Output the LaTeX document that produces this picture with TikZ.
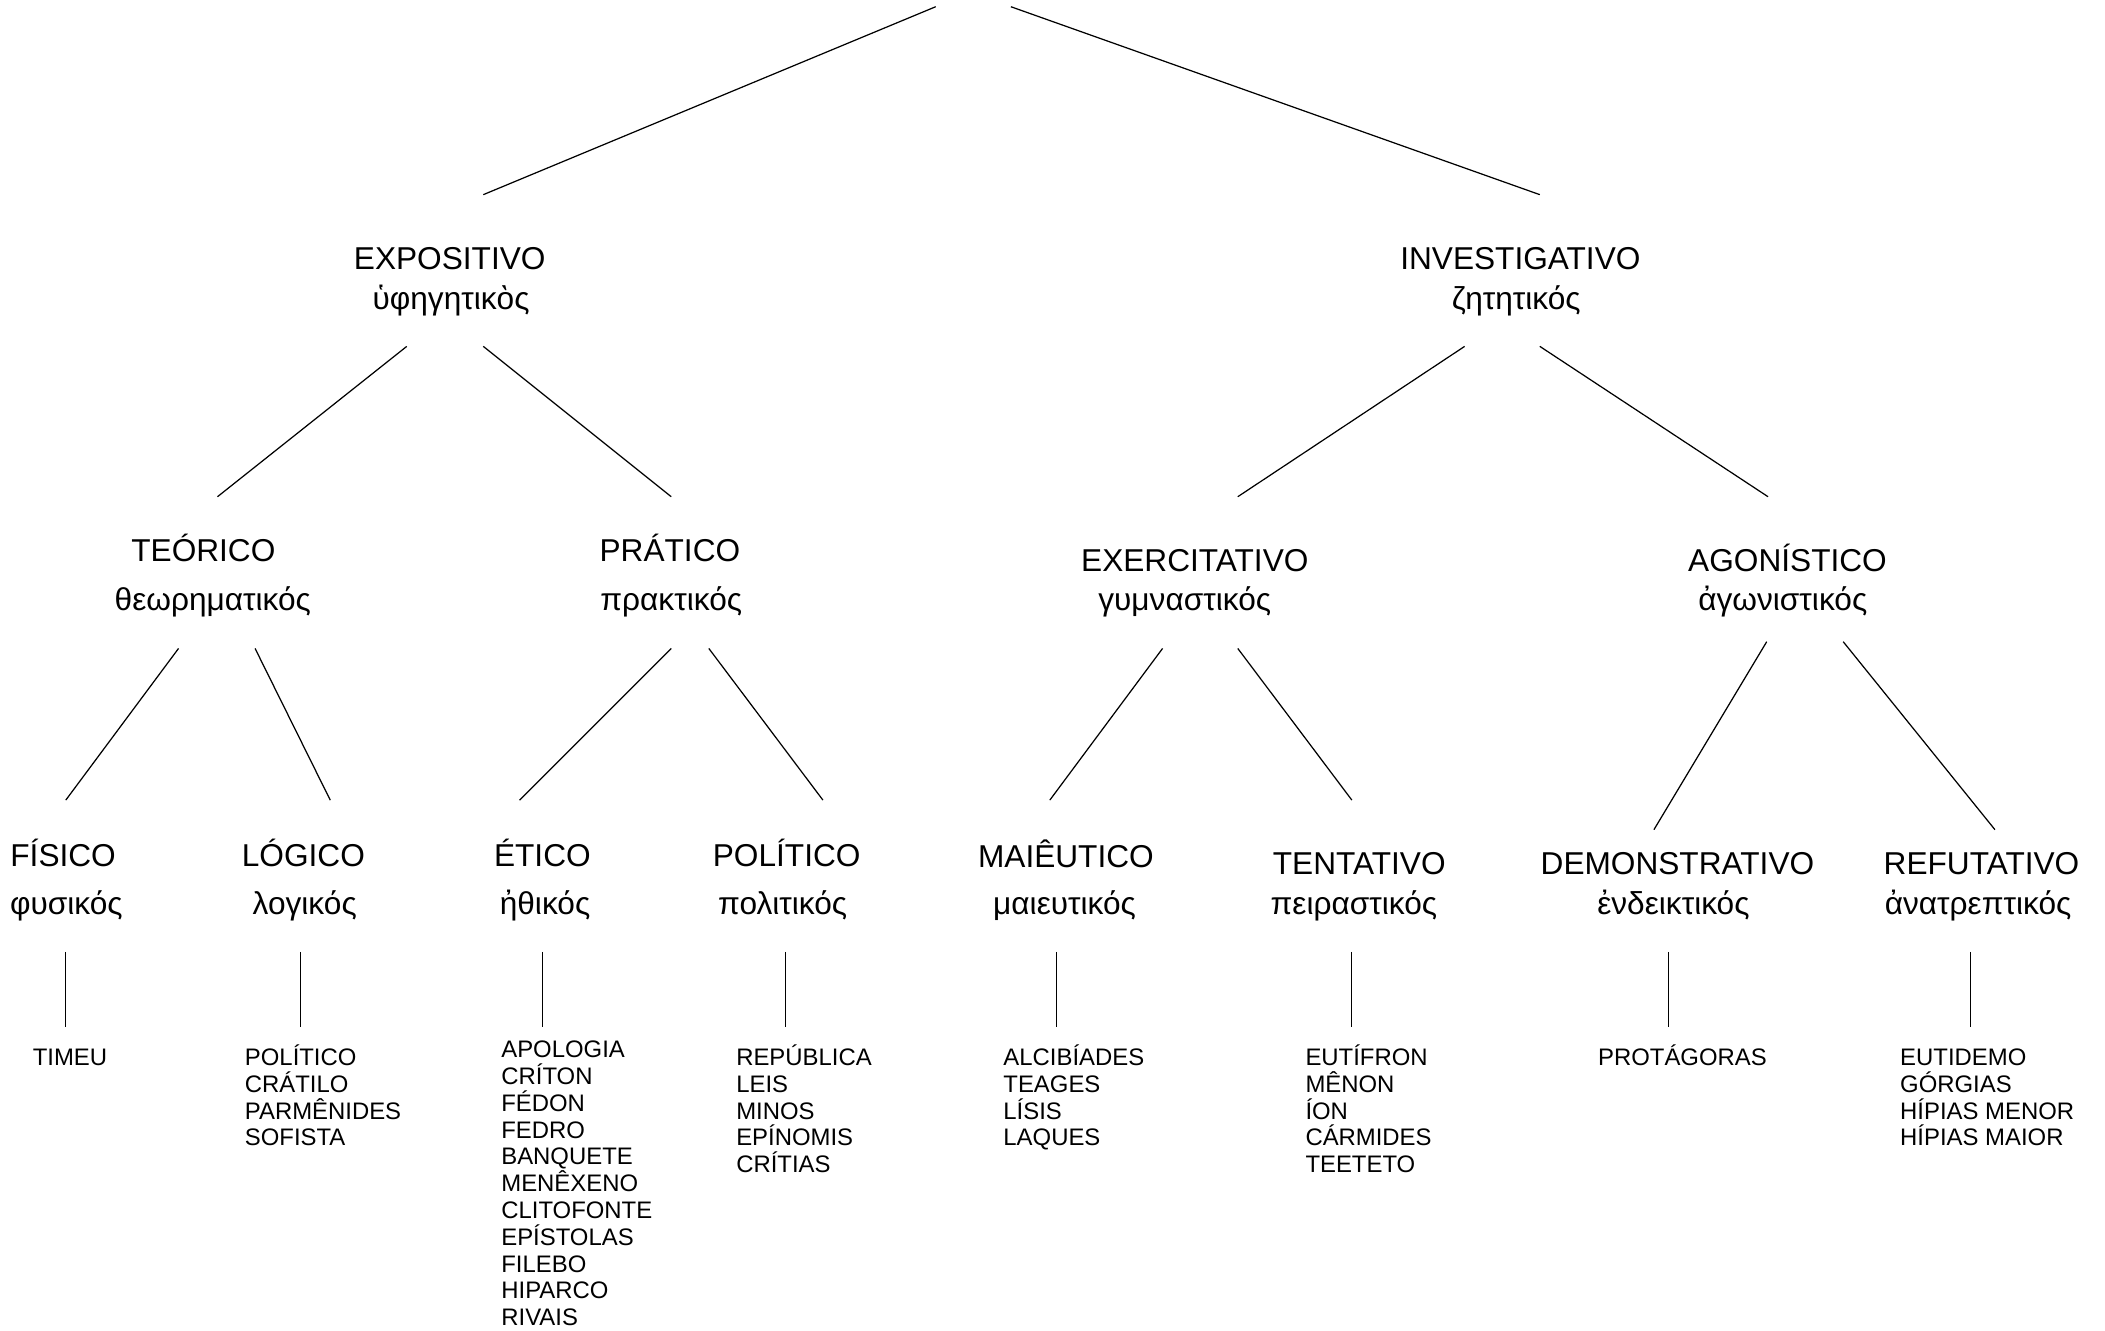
\documentclass[tikz,border=0pt]{standalone}
\usepackage{fontspec}
\setmainfont{Liberation Sans}
\begin{document}
\begin{tikzpicture}[x=0.013425cm, y=-0.013425cm, line width=0.35pt,
    cat/.style = {anchor=base, inner sep=0pt,
        font=\fontsize{9}{11}\selectfont},
    obras/.style = {anchor=base west, inner sep=0pt, align=left,
        font=\fontsize{6.8}{7.63}\selectfont}]
\useasboundingbox (0,0) rectangle (1568,991);

% Raiz
\coordinate (root) at (725,5);

% Expositivo / Investigativo
\node[cat] (expo) at (335,200.5) {EXPOSITIVO};
\node[cat] (expog) at (336,230.5) {ὑφηγητικὸς};
\node[cat] (inv) at (1132.5,200.5) {INVESTIGATIVO};
\node[cat] (invg) at (1129.5,230.5) {ζητητικός};

% Segundo nivel
\node[cat] (teo) at (151.5,418.5) {TEÓRICO};
\node[cat] (teog) at (158.5,455) {θεωρηματικός};
\node[cat] (pra) at (499,418.5) {PRÁTICO};
\node[cat] (prag) at (500,455) {πρακτικός};
\node[cat] (exe) at (890,426) {EXERCITATIVO};
\node[cat] (exeg) at (882.5,455) {γυμναστικός};
\node[cat] (ago) at (1331.5,426) {AGONÍSTICO};
\node[cat] (agog) at (1328,455) {ἀγωνιστικός};

% Terceiro nivel
\node[cat] (fis) at (47,645.5) {FÍSICO};
\node[cat] (fisg) at (49.5,681.5) {φυσικός};
\node[cat] (log) at (226,645.5) {LÓGICO};
\node[cat] (logg) at (227,681.5) {λογικός};
\node[cat] (eti) at (404,645.5) {ÉTICO};
\node[cat] (etig) at (406,681.5) {ἠθικός};
\node[cat] (pol) at (586,645.5) {POLÍTICO};
\node[cat] (polg) at (583,681.5) {πολιτικός};
\node[cat] (mai) at (794,646) {MAIÊUTICO};
\node[cat] (maig) at (793,681.5) {μαιευτικός};
\node[cat] (ten) at (1012.5,651.5) {TENTATIVO};
\node[cat] (teng) at (1008.5,681.5) {πειραστικός};
\node[cat] (dem) at (1249.5,651.5) {DEMONSTRATIVO};
\node[cat] (demg) at (1246.5,681.5) {ἐνδεικτικός};
\node[cat] (ref) at (1476,651.5) {REFUTATIVO};
\node[cat] (refg) at (1473.5,681.5) {ἀνατρεπτικός};

% Dialogos (ancorados na ultima linha)
\node[obras] (fisl) at (24,793.5) {TIMEU};
\node[obras] (logl) at (182,853.5) {POLÍTICO\\CRÁTILO\\PARMÊNIDES\\SOFISTA};
\node[obras] (etil) at (373,987.5) {APOLOGIA\\CRÍTON\\FÉDON\\FEDRO\\BANQUETE\\MENÊXENO\\CLITOFONTE\\EPÍSTOLAS\\FILEBO\\HIPARCO\\RIVAIS};
\node[obras] (poll) at (548,873.5) {REPÚBLICA\\LEIS\\MINOS\\EPÍNOMIS\\CRÍTIAS};
\node[obras] (mail) at (747,853.5) {ALCIBÍADES\\TEAGES\\LÍSIS\\LAQUES};
\node[obras] (tenl) at (972,873.5) {EUTÍFRON\\MÊNON\\ÍON\\CÁRMIDES\\TEETETO};
\node[obras] (deml) at (1190,793.5) {PROTÁGORAS};
\node[obras] (refl) at (1415,853.5) {EUTIDEMO\\GÓRGIAS\\HÍPIAS MENOR\\HÍPIAS MAIOR};

% Ramos
\draw ([shift={(-28,0)}]root) -- ([shift={(25,-55.5)}]expo.base);
\draw ([shift={(28,0)}]root) -- ([shift={(14.5,-55.5)}]inv.base);

\draw ([shift={(-33,27.5)}]expog.base) -- ([shift={(10.5,-48.5)}]teo.base);
\draw ([shift={(24,27.5)}]expog.base) -- ([shift={(1,-48.5)}]pra.base);
\draw ([shift={(-38.5,27.5)}]invg.base) -- ([shift={(32,-56)}]exe.base);
\draw ([shift={(17.5,27.5)}]invg.base) -- ([shift={(-14.5,-56)}]ago.base);

\draw ([shift={(-25.5,28)}]teog.base) -- ([shift={(2,-49.5)}]fis.base);
\draw ([shift={(31.5,28)}]teog.base) -- ([shift={(20,-49.5)}]log.base);
\draw ([shift={(0,28)}]prag.base) -- ([shift={(-17,-49.5)}]eti.base);
\draw ([shift={(28,28)}]prag.base) -- ([shift={(27,-49.5)}]pol.base);
\draw ([shift={(-16.5,28)}]exeg.base) -- ([shift={(-12,-50)}]mai.base);
\draw ([shift={(39.5,28)}]exeg.base) -- ([shift={(-5.5,-55.5)}]ten.base);
\draw ([shift={(-12,23)}]agog.base) -- ([shift={(-17.5,-33.5)}]dem.base);
\draw ([shift={(45,23)}]agog.base) -- ([shift={(10,-33.5)}]ref.base);

% Verticais
\draw ([shift={(-0.5,27.5)}]fisg.base) -- ([shift={(25,-28.5)}]fisl.base west);
\draw ([shift={(-3,27.5)}]logg.base) -- ([shift={(42,-88.5)}]logl.base west);
\draw ([shift={(-2,27.5)}]etig.base) -- ([shift={(31,-222.5)}]etil.base west);
\draw ([shift={(2,27.5)}]polg.base) -- ([shift={(37,-108.5)}]poll.base west);
\draw ([shift={(-6,27.5)}]maig.base) -- ([shift={(40,-88.5)}]mail.base west);
\draw ([shift={(-1.5,27.5)}]teng.base) -- ([shift={(35,-108.5)}]tenl.base west);
\draw ([shift={(-3.5,27.5)}]demg.base) -- ([shift={(53,-28.5)}]deml.base west);
\draw ([shift={(-5.5,27.5)}]refg.base) -- ([shift={(53,-88.5)}]refl.base west);
\end{tikzpicture}
\end{document}
